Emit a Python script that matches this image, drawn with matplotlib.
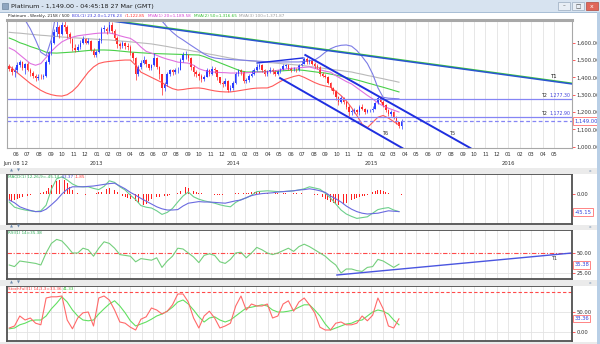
import pandas as pd
import matplotlib
matplotlib.use("Agg")
import matplotlib.pyplot as plt
import matplotlib.dates as mdates
import matplotlib.transforms as mtrans
from matplotlib.patches import Rectangle

W, H = 600, 344


def fx(x):
    return x / W


def fy(y):
    return 1 - y / H


def panel(top, bottom):
    return [fx(7), fy(bottom), fx(572) - fx(7), (bottom - top) / H]


# ---------------- data ----------------
weeks = pd.date_range("2012-05-14", periods=150, freq="W-MON")
every2 = weeks[::2]
months = pd.date_range("2012-06-01", "2016-05-01", freq="MS")
year_ticks = ["2012-06-01", "2013-01-01", "2014-01-01", "2015-01-01", "2016-01-01"]
year_labels = ["Jun 08 12", "2013", "2014", "2015", "2016"]

first_open = 1465
close = [1450, 1430, 1445, 1470, 1490, 1455, 1475, 1445, 1425, 1410,
         1395, 1405, 1400, 1410, 1490, 1540, 1600, 1660, 1690, 1650,
         1700, 1690, 1650, 1620, 1570, 1560, 1575, 1600, 1620, 1600,
         1610, 1560, 1530, 1545, 1610, 1680, 1680, 1665, 1700, 1670,
         1630, 1590, 1580, 1600, 1580, 1575, 1540, 1510, 1420, 1460,
         1485, 1500, 1475, 1455, 1470, 1510, 1460, 1420, 1340, 1360,
         1420, 1440, 1430, 1440, 1440, 1500, 1530, 1530, 1510, 1460,
         1430, 1420, 1410, 1390, 1405, 1440, 1420, 1450, 1440, 1400,
         1370, 1360, 1380, 1330, 1340, 1365, 1420, 1440, 1430, 1380,
         1385, 1410, 1420, 1440, 1460, 1470, 1440, 1420, 1430, 1445,
         1430, 1420, 1435, 1445, 1465, 1470, 1450, 1440, 1445, 1440,
         1470, 1480, 1505, 1490, 1495, 1480, 1465, 1460, 1420, 1410,
         1405, 1370, 1340, 1320, 1285, 1260, 1280, 1260, 1230, 1200,
         1205, 1210, 1200, 1230, 1220, 1200, 1210, 1212, 1220, 1250,
         1280, 1260, 1240, 1210, 1190, 1200, 1170, 1140, 1120, 1149]
high = [1480, 1465, 1460, 1490, 1500, 1495, 1485, 1490, 1455, 1435,
        1420, 1420, 1420, 1420, 1500, 1555, 1615, 1680, 1725, 1700,
        1720, 1730, 1700, 1660, 1630, 1590, 1590, 1615, 1640, 1630,
        1625, 1615, 1570, 1560, 1625, 1690, 1700, 1690, 1740, 1720,
        1680, 1640, 1605, 1610, 1605, 1600, 1585, 1545, 1515, 1470,
        1500, 1525, 1505, 1480, 1480, 1540, 1515, 1465, 1420, 1375,
        1430, 1450, 1450, 1455, 1460, 1510, 1545, 1550, 1535, 1515,
        1470, 1445, 1430, 1420, 1415, 1455, 1450, 1465, 1460, 1445,
        1405, 1380, 1395, 1385, 1355, 1380, 1430, 1450, 1450, 1435,
        1395, 1420, 1440, 1455, 1480, 1485, 1475, 1450, 1445, 1460,
        1455, 1440, 1445, 1455, 1475, 1480, 1475, 1460, 1460, 1455,
        1480, 1495, 1515, 1520, 1505, 1500, 1490, 1475, 1465, 1430,
        1420, 1410, 1375, 1345, 1325, 1290, 1290, 1285, 1265, 1240,
        1215, 1225, 1215, 1240, 1245, 1225, 1220, 1220, 1235, 1260,
        1295, 1290, 1270, 1245, 1215, 1210, 1205, 1175, 1145, 1160]
low = [1435, 1415, 1405, 1430, 1460, 1440, 1420, 1435, 1410, 1395,
       1380, 1385, 1390, 1390, 1405, 1480, 1530, 1590, 1640, 1630,
       1645, 1670, 1630, 1600, 1555, 1545, 1550, 1565, 1590, 1590,
       1590, 1550, 1520, 1520, 1540, 1600, 1660, 1650, 1660, 1655,
       1615, 1570, 1565, 1570, 1565, 1560, 1530, 1495, 1385, 1410,
       1450, 1475, 1460, 1440, 1445, 1465, 1450, 1390, 1300, 1320,
       1350, 1410, 1415, 1420, 1425, 1440, 1490, 1505, 1495, 1445,
       1410, 1405, 1385, 1375, 1380, 1400, 1410, 1415, 1425, 1385,
       1360, 1345, 1350, 1315, 1320, 1330, 1360, 1410, 1415, 1365,
       1365, 1375, 1400, 1415, 1435, 1450, 1430, 1410, 1410, 1425,
       1420, 1410, 1415, 1425, 1440, 1455, 1440, 1430, 1435, 1430,
       1435, 1465, 1475, 1480, 1475, 1470, 1455, 1450, 1410, 1400,
       1395, 1360, 1330, 1305, 1270, 1240, 1250, 1245, 1215, 1180,
       1185, 1195, 1190, 1185, 1210, 1190, 1195, 1200, 1200, 1215,
       1245, 1250, 1230, 1200, 1180, 1180, 1160, 1130, 1110, 1105]

# overlays, one value every two weeks
bb_hi = [1830, 1790, 1760, 1731, 1680, 1616, 1545, 1525, 1620, 1790, 1850,
         1860, 1860, 1850, 1840, 1830, 1820, 1810, 1810, 1815, 1820, 1820,
         1815, 1810, 1800, 1790, 1780, 1770, 1750, 1725, 1690, 1660, 1635,
         1616, 1595, 1575, 1555, 1535, 1520, 1512, 1508, 1505, 1503, 1501,
         1500, 1498, 1496, 1494, 1492, 1490, 1490, 1489, 1489, 1489, 1489,
         1489, 1492, 1496, 1500, 1520, 1545, 1565, 1578, 1585, 1587, 1580,
         1555, 1520, 1480, 1420, 1340, 1285, 1280, 1278, 1276]
bb_lo = [1465, 1440, 1415, 1390, 1365, 1345, 1325, 1310, 1300, 1294,
         1292, 1300, 1320, 1350, 1390, 1430, 1460, 1480, 1488, 1492,
         1495, 1498, 1500, 1500, 1470, 1430, 1415, 1400, 1385, 1370,
         1350, 1335, 1327, 1330, 1335, 1338, 1339, 1335, 1328, 1322,
         1318, 1316, 1316, 1320, 1325, 1330, 1335, 1338, 1339, 1339,
         1350, 1368, 1385, 1395, 1405, 1412, 1400, 1385, 1370, 1358,
         1350, 1344, 1320, 1295, 1265, 1225, 1180, 1130, 1110, 1140,
         1170, 1180, 1165, 1145, 1125]
ma20 = [1570, 1555, 1530, 1505, 1480, 1470, 1480, 1515, 1550, 1580,
        1605, 1620, 1632, 1640, 1644, 1648, 1652, 1655, 1656, 1656,
        1650, 1640, 1632, 1625, 1605, 1575, 1550, 1540, 1527, 1515,
        1505, 1497, 1488, 1485, 1482, 1470, 1450, 1440, 1433, 1430,
        1428, 1427, 1425, 1425, 1425, 1427, 1428, 1430, 1431, 1432,
        1436, 1441, 1446, 1450, 1453, 1455, 1458, 1460, 1452, 1444,
        1436, 1430, 1410, 1393, 1376, 1362, 1340, 1318, 1296, 1276,
        1252, 1235, 1222, 1211, 1200]
ma50 = [1627, 1615, 1600, 1590, 1578, 1568, 1558, 1545, 1541, 1540,
        1542, 1544, 1546, 1549, 1552, 1555, 1557, 1558,
        1558, 1557, 1555, 1552, 1549, 1546, 1544, 1542,
        1540, 1538, 1537, 1536, 1535, 1534, 1533, 1532, 1531, 1530, 1529,
        1520, 1508, 1496, 1484, 1472, 1460, 1448, 1437, 1431,
        1431, 1432, 1433, 1434, 1435, 1436, 1438, 1440, 1442, 1443,
        1440, 1436, 1432, 1428, 1425,
        1419, 1413, 1406, 1399, 1392, 1385,
        1377, 1368, 1360, 1351, 1343, 1334, 1325, 1316]
ma100 = [1660, 1657, 1655, 1652, 1649, 1646, 1643, 1641, 1638, 1636,
         1633, 1631, 1629, 1627, 1625, 1623, 1621, 1619, 1617, 1616,
         1613, 1610, 1608, 1605, 1602, 1599, 1596, 1593, 1588, 1583,
         1578, 1572, 1567, 1562, 1557, 1551, 1546, 1540, 1534, 1529,
         1523, 1517, 1511, 1506, 1500, 1497, 1494, 1492, 1489, 1486,
         1484, 1481, 1478, 1476, 1473, 1471, 1467, 1463, 1459, 1455,
         1451, 1447, 1443, 1439, 1435, 1431, 1424, 1418, 1411, 1405,
         1398, 1392, 1385, 1379, 1372]

# drawn trend lines and levels
t1_dates = ["2013-02-11", "2016-06-18"]
t1_prices = [1725, 1362]
t5_dates = ["2014-07-10", "2015-09-22"]
t5_prices = [1529, 992]
t6_dates = ["2014-05-04", "2015-03-25"]
t6_prices = [1396, 992]
top_dates = ["2014-03-04", "2014-07-04"]
top_prices = [1483, 1512]
t2_levels = [1277.30, 1172.90]
last_price = 1149.00

# MACD (every two weeks) and histogram (weekly)
macd = [-20, -33, -37, -40, -42, -44, -42, -28, 12, 38,
        43, 35, 25, 19, 18, 18, 14, 11, 19, 33,
        29, 18, 10, -3, -14, -29, -33, -35, -42, -51,
        -46, -36, -20, -5, 5, -7, -13, -17, -20, -23,
        -27, -30, -32, -21, -14, -10, -3, 6, 7, 8,
        7, 6, 6, 7, 8, 10, 13, 18, 15, 12,
        2, -10, -25, -40, -50, -56, -61, -59, -57, -48,
        -39, -36, -34, -40, -44]
signal = [-15, -22, -32, -37, -41, -44, -44, -38, -27, -15,
          0, 12, 18, 18, 18, 19, 20, 22, 24, 26,
          27, 20, 13, 4, -3, -11, -18, -25, -32, -37,
          -40, -40, -39, -30, -23, -21, -19, -20, -20, -21,
          -22, -23, -20, -17, -15, -9, -4, -1, 1, 2,
          3, 5, 6, 7, 8, 10, 11, 13, 11, 8,
          4, -5, -12, -20, -30, -38, -44, -48, -50, -49,
          -48, -45, -42, -43, -44]
hist = [-15, -17, -15, -12, -10, -8, -6, -4, -2, -1,
        0, 1, 2, 4, 8, 15, 22, 28, 33, 35,
        36, 34, 28, 18, 10, 4, 2, 1, -1, -2,
        -1, 0, 1, 3, 4, 5, 8, 12, 15, 14,
        10, 5, 0, -4, -8, -10, -12, -14, -18, -22,
        -26, -27, -24, -18, -12, -10, -8, -8, -7, -6,
        -5, -3, -1, 1, 3, 8, 13, 17, 16, 12,
        7, 4, 3, 2, 1, 0, -1, -2, -2, -3,
        -2, -2, -1, -1, 0, 1, 2, 3, 3, 2,
        3, 3, 4, 5, 6, 5, 4, 3, 2, 2,
        1, 2, 2, 1, 2, 2, 1, 2, 2, 2,
        1, 2, 1, 0, -1, -1, -2, -3, -5, -8,
        -12, -16, -20, -23, -26, -27, -27, -25, -22, -19,
        -16, -13, -10, -8, -6, -4, -2, 1, 4, 7,
        9, 10, 8, 6, 3, 2, 1, 0, -1, -2]

rsi = [35, 33, 40, 39, 38, 37, 35, 50, 62, 67,
       65, 58, 50, 50, 56, 54, 46, 56, 64, 62,
       56, 48, 47, 46, 39, 43, 42, 41, 44, 32,
       40, 46, 56, 55, 50, 45, 38, 47, 49, 47,
       39, 37, 42, 50, 51, 44, 50, 57, 54, 50,
       48, 50, 53, 56, 52, 58, 61, 58, 54, 50,
       46, 40, 35, 25, 30, 30, 28, 27, 32, 33,
       42, 40, 36, 32, 36]
rsi_t_dates = ["2014-10-02", "2016-06-18"]
rsi_t_values = [22.5, 50]

stoch_k = [10, 15, 40, 30, 35, 22, 18, 85, 88, 88,
           90, 30, 8, 35, 48, 50, 15, 85, 90, 80,
           55, 25, 22, 12, 5, 32, 38, 60, 55, 45,
           52, 68, 95, 95, 75, 35, 10, 40, 52, 35,
           10, 15, 22, 65, 90, 55, 70, 65, 65, 70,
           35, 40, 70, 78, 52, 75, 85, 68, 48, 12,
           5, 5, 22, 25, 18, 18, 22, 40, 28, 42,
           85, 58, 15, 10, 33]
stoch_d = [8, 10, 18, 22, 28, 30, 30, 40, 58, 72,
           88, 75, 55, 40, 30, 28, 30, 45, 58, 70,
           78, 65, 48, 28, 15, 20, 25, 32, 40, 45,
           52, 62, 75, 80, 70, 55, 38, 25, 35, 38,
           30, 25, 30, 40, 50, 60, 62, 65, 68, 65,
           55, 50, 50, 52, 55, 62, 68, 68, 55, 40,
           20, 5, 10, 15, 20, 22, 28, 30, 40, 50,
           55, 52, 45, 30, 18]

opens = [first_open] + close[:-1]

# ---------------- figure ----------------
fig = plt.figure(figsize=(6, 3.44), dpi=100)
fig.patch.set_facecolor("white")
renderer = fig.canvas.get_renderer()


def frect(x0, y0, x1, y1, **kw):
    fig.add_artist(Rectangle((fx(x0), fy(y1)), fx(x1) - fx(x0), (y1 - y0) / H,
                             transform=fig.transFigure, **kw))


def text_row(x, y, parts, size=3.2, gap=2.5):
    # coloured legend pieces placed one after the other
    cur = x
    for txt, col in parts:
        t = fig.text(fx(cur), fy(y), txt, fontsize=size, color=col, va="center")
        cur += t.get_window_extent(renderer=renderer).width + gap


# window title bar and buttons
frect(0, 0, 600, 12.5, fc="#d7e3f0", ec="none")
frect(0, 12, 600, 12.8, fc="#a9bfd6", ec="none")
frect(2, 3, 8, 9, fc="#8fa6c0", ec="#5d7590", lw=0.4)
fig.text(fx(11), fy(6.5), "Platinum - 1,149.00 - 04:45:18 27 Mar (GMT)",
         fontsize=4.6, color="#1c1c1c", va="center")
frect(558, 2, 570, 10, fc="#e8eef5", ec="#9aabbf", lw=0.5)
frect(572, 2, 584, 10, fc="#e8eef5", ec="#9aabbf", lw=0.5)
frect(586, 2, 598, 10, fc="#e0675a", ec="#b24a3f", lw=0.5)
fig.text(fx(564), fy(6.3), "\u2013", fontsize=4, ha="center", va="center", color="#444")
fig.text(fx(578), fy(6.3), "\u25a1", fontsize=4, ha="center", va="center", color="#444")
fig.text(fx(592), fy(6.3), "x", fontsize=4.5, ha="center", va="center", color="white")
frect(596.5, 12, 600, 344, fc="#b9cfe6", ec="none")

# separator strips between panels
for y0, y1 in [(168, 173.5), (224.5, 229.5), (279.5, 285.5), (341.5, 344)]:
    frect(0, y0, 596.5, y1, fc="#ebebeb", ec="none")
for yy in [171, 227, 282.5]:
    fig.text(fx(11), fy(yy), "\u25b2", fontsize=2.8, color="#6f8db0", ha="center", va="center")
    fig.text(fx(18), fy(yy), "\u25bc", fontsize=2.8, color="#6f8db0", ha="center", va="center")
    fig.text(fx(590), fy(yy), "x", fontsize=3.2, color="#6f8db0", ha="center", va="center")

xmin, xmax = pd.Timestamp("2012-05-08"), pd.Timestamp("2016-06-18")


def style_common(a, spine_col, spine_w):
    a.set_xlim(xmin, xmax)
    a.set_xticks(months)
    a.grid(axis="x", color="#e3e3e3", lw=0.6)
    a.set_axisbelow(True)
    a.yaxis.tick_right()
    a.tick_params(axis="y", length=2, width=0.6, color="#ff4040",
                  labelcolor="#333333", labelsize=3.8, pad=1)
    for s in a.spines.values():
        s.set_color(spine_col)
        s.set_linewidth(spine_w)


def value_box(a, v, txt):
    tr = mtrans.blended_transform_factory(a.transAxes, a.transData)
    a.text(1.004, v, txt, transform=tr, fontsize=3.8, color="#3344dd",
           va="center", ha="left", clip_on=False,
           bbox=dict(boxstyle="square,pad=0.25", fc="white", ec="#ff7070", lw=0.6))


# ---- main price panel ----
ax = fig.add_axes(panel(20, 148))
style_common(ax, "#a8a8a8", 0.8)
ax.spines["top"].set_linewidth(2.2)
ax.set_ylim(992.5, 1731)
ax.set_yticks(range(1000, 1700, 100))
ax.set_yticklabels([f"{v:,.2f}" for v in range(1000, 1700, 100)])
ax.xaxis.set_major_formatter(mdates.DateFormatter("%m"))
ax.tick_params(axis="x", length=0, labelsize=3.8, labelcolor="#333333", pad=3)
for d, lab in zip(year_ticks, year_labels):
    ax.text(pd.Timestamp(d), -0.118, lab, transform=ax.get_xaxis_transform(),
            fontsize=3.8, color="#333333", ha="center", va="center")

ax.plot(every2, ma100, color="#b9b9b9", lw=0.8)
ax.plot(every2, ma50, color="#48d048", lw=0.8)
ax.plot(every2, ma20, color="#e070e0", lw=0.8)
ax.plot(every2, bb_hi, color="#7c7ce6", lw=0.8)
ax.plot(every2, bb_lo, color="#ff5a5a", lw=0.8)

cols = ["#2a3cff" if c >= o else "#ff2a2a" for o, c in zip(opens, close)]
ax.vlines(weeks, low, high, colors=cols, lw=0.5)
bottoms = [min(o, c) for o, c in zip(opens, close)]
heights = [max(abs(c - o), 3) for o, c in zip(opens, close)]
ax.bar(weeks, heights, bottom=bottoms, width=4.2, color=cols, lw=0)

trx = mtrans.blended_transform_factory(ax.transAxes, ax.transData)
for lvl in t2_levels:
    ax.axhline(lvl, color="#8585f5", lw=0.9)
    num = ax.text(0.997, lvl + 4, f"{lvl:,.2f}", transform=trx, fontsize=3.4,
                  color="#4444dd", ha="right", va="bottom")
    ax.annotate("T2", xy=(0, 0), xycoords=num, xytext=(-1, 0),
                textcoords="offset points", fontsize=3.4, color="#222222",
                ha="right", va="bottom")
ax.axhline(last_price, color="#8585f5", lw=0.9, ls=(0, (3, 2)))

ax.plot(pd.to_datetime(t1_dates), [p + 4 for p in t1_prices], color="#3cc83c", lw=1.1)
ax.plot(pd.to_datetime(t1_dates), t1_prices, color="#2a55d0", lw=1.1)
ax.plot(pd.to_datetime(t5_dates), t5_prices, color="#1f2fe0", lw=1.4)
ax.plot(pd.to_datetime(t6_dates), t6_prices, color="#1f2fe0", lw=1.4)
ax.plot(pd.to_datetime(top_dates), top_prices, color="#1f2fe0", lw=1.0)
ax.text(pd.Timestamp("2016-04-24"), 1392, "T1", fontsize=3.8, color="#111111", va="bottom")
ax.text(pd.Timestamp("2015-07-28"), 1079, "T5", fontsize=3.6, color="#333333", va="center")
ax.text(pd.Timestamp("2015-01-30"), 1079, "T6", fontsize=3.6, color="#333333", va="center")
value_box(ax, last_price, f"{last_price:,.2f}")

# header row above main panel
text_row(8, 16, [("Platinum , Weekly, 2158 / 500", "#222222"),
                 ("BOL(1) 23,2.0=1,276.23", "#3a3ad8"),
                 ("/1,122.85", "#ff3030"),
                 ("MVA(1) 20=1,189.58", "#d040d0"),
                 ("MVA(2) 50=1,316.65", "#2fbf2f"),
                 ("MVA(3) 100=1,371.87", "#9a9a9a")], size=3.0, gap=3)

# ---- MACD panel ----
am = fig.add_axes(panel(174, 224))
style_common(am, "#505050", 1.3)
am.set_ylim(-75, 50)
am.set_yticks([0])
am.set_yticklabels(["0.00"])
am.tick_params(axis="x", length=0, labelbottom=False)
am.bar(weeks, hist, width=2.2, color="#ff2020", lw=0)
am.plot(every2, macd, color="#6ccf8c", lw=0.8)
am.plot(every2, signal, color="#6a6ae0", lw=0.8)
value_box(am, -45.15, "-45.15")
text_row(8, 177.5, [("MACD(1) 12,26,9=-45.14", "#2fae5a"),
                    ("-43.37", "#4a4ad8"),
                    ("-1.85", "#ff3030")], size=3.0, gap=1.5)

# ---- RSI panel ----
ar = fig.add_axes(panel(230, 279))
style_common(ar, "#505050", 1.3)
ar.set_ylim(17.5, 78.75)
ar.set_yticks([50, 25])
ar.set_yticklabels(["50.00", "25.00"])
ar.tick_params(axis="x", length=0, labelbottom=False)
ar.axhline(25, color="#e3e3e3", lw=0.6)
ar.axhline(50, color="#ff4a4a", lw=0.8, ls=(0, (4, 1.5, 1, 1.5)))
ar.plot(every2, rsi, color="#74cf7c", lw=0.8)
ar.plot(pd.to_datetime(rsi_t_dates), rsi_t_values, color="#4a55e0", lw=1.0)
ar.text(pd.Timestamp("2016-04-24"), 43.5, "T1", fontsize=3.6, color="#333333", va="center")
value_box(ar, 35.38, "35.38")
text_row(8, 233.5, [("RSI(1) 14=35.38", "#2fae5a")], size=3.0)

# ---- Stochastic panel ----
ast = fig.add_axes(panel(286, 341))
style_common(ast, "#505050", 1.3)
ast.set_ylim(-22.5, 115)
ast.set_yticks([50, 0])
ast.set_yticklabels(["50.00", "0.00"])
ast.tick_params(axis="x", length=0, labelbottom=False)
ast.axhline(50, color="#e3e3e3", lw=0.6)
ast.axhline(0, color="#e3e3e3", lw=0.6)
ast.axhline(100, color="#ff4a4a", lw=0.8, ls=(0, (3, 2)))
ast.plot(every2, stoch_d, color="#62e062", lw=0.8)
ast.plot(every2, stoch_k, color="#ff6a6a", lw=0.8)
value_box(ast, 33.36, "33.36")
text_row(8, 289.5, [("StochFull(1) 14,3,3=33.36", "#ff3a3a"),
                    ("41.33", "#2fbf2f")], size=3.0, gap=1.5)

fig.savefig("out.png", dpi=100)
